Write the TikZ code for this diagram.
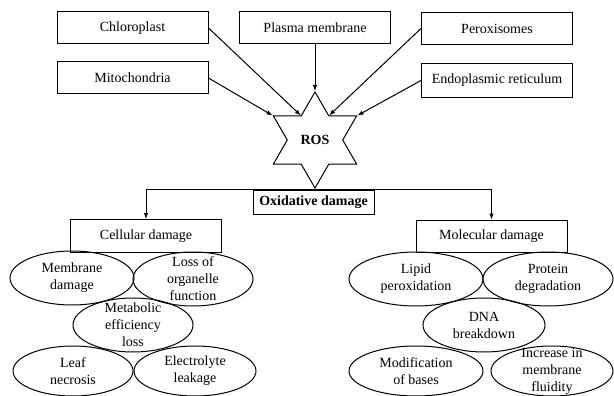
\documentclass[tikz,border=0pt]{standalone}
\usepackage{fontspec}
\setmainfont{Liberation Serif}
\usetikzlibrary{shapes.geometric,arrows.meta}

\tikzset{
  srcbox/.style={draw,line width=1pt,minimum width=151pt,minimum height=32pt,inner sep=0pt},
  dmgbox/.style={draw,line width=1pt,minimum width=151pt,minimum height=33pt,inner sep=0pt},
  effect/.style={draw,ellipse,line width=1pt,inner xsep=0pt,inner ysep=-8pt,align=center},
  arr/.style={-{Latex[length=6pt,width=4.5pt]},line width=1pt}
}

\begin{document}
\begin{tikzpicture}[x=1pt,y=-1pt,font=\fontsize{14}{17}\selectfont]

\useasboundingbox (0,0) rectangle (614,396);

% Sources of ROS
\node[srcbox] (chloro) at (132.5,28) {Chloroplast};
\node[srcbox] (mito) at (132.5,78) {Mitochondria};
\node[srcbox] (plasma) at (315,27.5) {Plasma membrane};
\node[srcbox] (perox) at (497,28.5) {Peroxisomes};
\node[srcbox,minimum height=34pt] (er) at (497,80.5) {Endoplasmic reticulum};

% Star
\node[draw,line width=1pt,star,star points=6,star point ratio=1.732,
  minimum size=96pt,inner sep=0pt,font=\fontsize{14}{17}\selectfont\bfseries]
  (ros) at (315,140) {ROS};

\draw[arr] (plasma.south) -- (ros.outer point 1);
\draw[arr] (chloro.east) -- (ros.inner point 1);
\draw[arr] (mito.east) -- (ros.outer point 2);
\draw[arr] (perox.west) -- (ros.inner point 6);
\draw[arr] (er.west) -- (ros.outer point 6);

% Damage
\node[draw,line width=1pt,minimum width=121pt,minimum height=24pt,inner sep=0pt,
  font=\fontsize{14}{17}\selectfont\bfseries] (oxid) at (313.5,202) {Oxidative damage};

\node[dmgbox] (cell) at (146,236) {Cellular damage};
\node[dmgbox,minimum height=32pt] (mol) at (491.5,236) {Molecular damage};

\draw[arr] (ros.outer point 4) -| (cell.north);
\draw[arr] (ros.outer point 4) -| (mol.north);

% Cellular effects
\node[effect,minimum width=124pt,minimum height=54pt] (memb) at (72,278) {Membrane\\damage};
\node[effect,minimum width=120pt,minimum height=54pt] (organ) at (193,279) {Loss of\\organelle\\function};
\node[effect,minimum width=120pt,minimum height=54pt] (metab) at (133,325) {Metabolic\\efficiency\\loss};
\node[effect,minimum width=120pt,minimum height=50pt] (leaf) at (73,371) {Leaf\\necrosis};
\node[effect,minimum width=122pt,minimum height=50pt] (elec) at (195,371) {Electrolyte\\leakage};

% Molecular effects
\node[effect,minimum width=134pt,minimum height=54pt] (lipid) at (416,279) {Lipid\\peroxidation};
\node[effect,minimum width=130pt,minimum height=54pt] (prot) at (548,279) {Protein\\degradation};
\node[effect,minimum width=122pt,minimum height=54pt] (dna) at (484,325) {DNA\\breakdown};
\node[effect,minimum width=134pt,minimum height=50pt] (modif) at (416,371) {Modification\\of bases};
\node[effect,minimum width=122pt,minimum height=50pt] (fluid) at (552,371) {Increase in\\membrane\\fluidity};

\end{tikzpicture}
\end{document}
